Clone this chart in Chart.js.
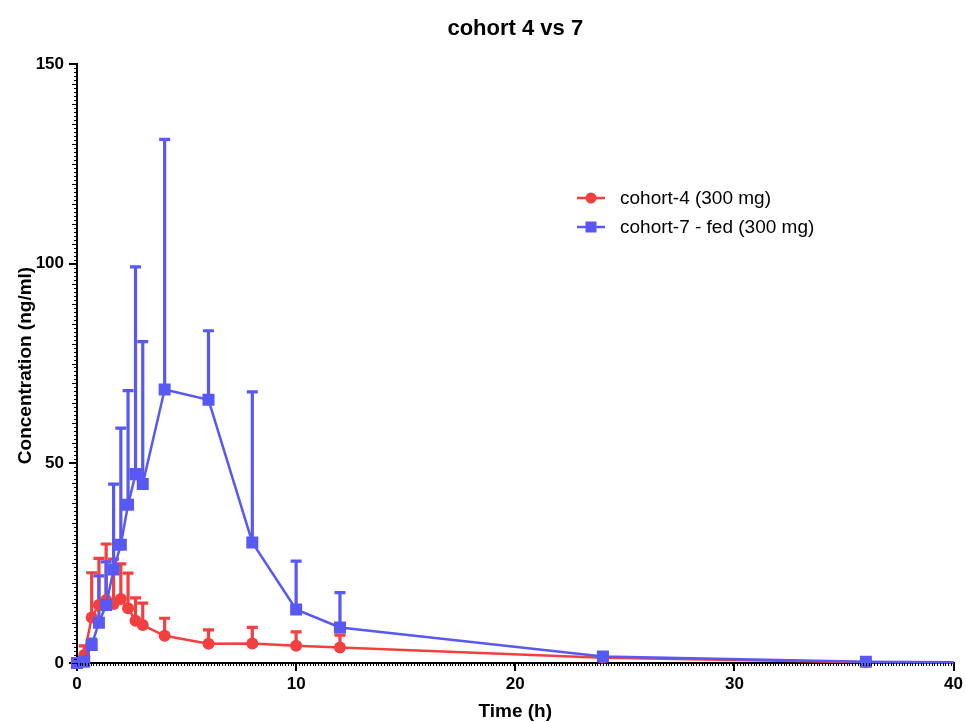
<!DOCTYPE html>
<html>
<head>
<meta charset="utf-8">
<title>cohort 4 vs 7</title>
<script src="https://cdn.jsdelivr.net/npm/chart.js@4.4.1/dist/chart.umd.min.js"></script>
<style>
  html, body { margin: 0; padding: 0; background: #fff; }
  #wrap { width: 966px; height: 722px; position: relative; }
</style>
</head>
<body>
<div id="wrap"><canvas id="pkChart" width="966" height="722"></canvas></div>
<script>
// time points (h) - last one is past the axis end, line runs off the edge
const times = [0, 0.33, 0.67, 1, 1.33, 1.67, 2, 2.33, 2.67, 3, 4, 6, 8, 10, 12, 24, 36, 48];

// cohort-4 (300 mg): mean and upper SD
const cohort4Mean = [0, 2.0, 11.4, 14.5, 15.8, 14.8, 16.0, 13.7, 10.6, 9.5, 6.8, 4.8, 4.9, 4.3, 3.9, 1.3, 0.2, 0.05];
const cohort4Sd   = [0, 2.3, 11.2, 11.7, 14.0, 11.2, 8.8, 8.8, 5.7, 5.5, 4.4, 3.5, 4.0, 3.5, 3.1, 0.5, 0.2, 0];

// cohort-7 - fed (300 mg)
const cohort7Mean = [0, 0.3, 4.5, 10.1, 14.5, 23.4, 29.6, 39.6, 47.3, 44.8, 68.5, 65.9, 30.2, 13.4, 8.9, 1.6, 0.3, 0.05];
const cohort7Sd   = [0, 0, 1.5, 11.7, 10.8, 21.4, 29.2, 28.6, 51.9, 35.7, 62.6, 17.3, 37.7, 12.1, 8.7, 0.4, 0, 0];

const xTicks = [0, 10, 20, 30, 40];
const yTicks = [0, 50, 100, 150];

const RED = 'rgb(242, 64, 64)';
const BLUE = 'rgb(88, 88, 245)';
const FONT = '"Liberation Sans", Arial, Helvetica, sans-serif';

function toPoints(means) {
    return times.map((t, i) => ({ x: t, y: means[i] }));
}

// upper-only error bars with caps, drawn under the lines
const errorBars = {
    id: 'errorBars',
    beforeDatasetsDraw(chart) {
        const { ctx, scales: { x, y } } = chart;
        const sets = [[cohort4Mean, cohort4Sd, RED], [cohort7Mean, cohort7Sd, BLUE]];
        ctx.save();
        ctx.lineWidth = 3.2;
        sets.forEach(([mean, sd, color]) => {
            ctx.strokeStyle = color;
            times.forEach((t, i) => {
                if (t > x.max || !sd[i]) return;
                const px = x.getPixelForValue(t);
                const y0 = y.getPixelForValue(mean[i]);
                const y1 = y.getPixelForValue(mean[i] + sd[i]);
                ctx.beginPath();
                ctx.moveTo(px, y0);
                ctx.lineTo(px, y1);
                ctx.moveTo(px - 5.5, y1);
                ctx.lineTo(px + 5.5, y1);
                ctx.stroke();
            });
        });
        ctx.restore();
    }
};

// title, axis titles, minor ticks and the legend inside the plot
const extras = {
    id: 'extras',
    afterDraw(chart) {
        const { ctx, scales: { x, y }, chartArea: a } = chart;
        ctx.save();
        ctx.fillStyle = '#000';
        ctx.strokeStyle = '#000';

        // minor ticks
        ctx.lineWidth = 1;
        for (let v = 0; v <= 150; v += 1) {
            const py = Math.round(y.getPixelForValue(v)) + 0.5;
            const len = v % 5 === 0 ? 5 : 3;
            ctx.beginPath();
            ctx.moveTo(a.left - len, py);
            ctx.lineTo(a.left, py);
            ctx.stroke();
        }
        for (let v = 0; v <= 40; v += 0.125) {
            const px = Math.round(x.getPixelForValue(v)) + 0.5;
            ctx.beginPath();
            ctx.moveTo(px, a.bottom);
            ctx.lineTo(px, a.bottom + 3);
            ctx.stroke();
        }

        const cx = (a.left + a.right) / 2;
        ctx.textAlign = 'center';
        ctx.textBaseline = 'alphabetic';
        ctx.font = 'bold 22px ' + FONT;
        ctx.fillText('cohort 4 vs 7', cx, 35);

        ctx.font = 'bold 19px ' + FONT;
        ctx.fillText('Time (h)', cx, 717);

        ctx.save();
        ctx.translate(31, (a.top + a.bottom) / 2 + 2);
        ctx.rotate(-Math.PI / 2);
        ctx.fillText('Concentration (ng/ml)', 0, 0);
        ctx.restore();

        // legend
        const rows = [
            { label: 'cohort-4 (300 mg)', color: RED, shape: 'circle', y: 198 },
            { label: 'cohort-7 - fed (300 mg)', color: BLUE, shape: 'square', y: 227 }
        ];
        ctx.textAlign = 'left';
        ctx.textBaseline = 'middle';
        ctx.font = '19px ' + FONT;
        rows.forEach(r => {
            ctx.strokeStyle = r.color;
            ctx.fillStyle = r.color;
            ctx.lineWidth = 2.5;
            ctx.beginPath();
            ctx.moveTo(577, r.y);
            ctx.lineTo(605, r.y);
            ctx.stroke();
            if (r.shape === 'circle') {
                ctx.beginPath();
                ctx.arc(591, r.y, 5.5, 0, Math.PI * 2);
                ctx.fill();
            } else {
                ctx.fillRect(585.5, r.y - 5.5, 11, 11);
            }
            ctx.fillStyle = '#000';
            ctx.fillText(r.label, 620, r.y + 1);
        });
        ctx.restore();
    }
};

const ctx = document.getElementById('pkChart').getContext('2d');
const pkChart = new Chart(ctx, {
    type: 'line',
    data: {
        datasets: [{
            label: 'cohort-7 - fed (300 mg)',
            data: toPoints(cohort7Mean),
            borderColor: BLUE,
            backgroundColor: BLUE,
            borderWidth: 2.5,
            pointStyle: 'rect',
            pointRadius: 8.5,
            pointBorderWidth: 0,
            pointHoverRadius: 8.5,
            tension: 0,
            order: 0,
            clip: { left: 10, top: 10, right: 0, bottom: 10 }
        }, {
            label: 'cohort-4 (300 mg)',
            data: toPoints(cohort4Mean),
            borderColor: RED,
            backgroundColor: RED,
            borderWidth: 2.5,
            pointStyle: 'circle',
            pointRadius: 6,
            pointBorderWidth: 0,
            pointHoverRadius: 6,
            tension: 0,
            order: 1,
            clip: { left: 10, top: 10, right: 0, bottom: 10 }
        }]
    },
    options: {
        responsive: false,
        animation: false,
        layout: { padding: { left: 0, top: 64, right: 12, bottom: 0 } },
        plugins: {
            legend: { display: false },
            title: { display: false },
            tooltip: { enabled: false }
        },
        scales: {
            x: {
                type: 'linear',
                min: 0,
                max: 40,
                afterFit(scale) { scale.height = 59; },
                afterBuildTicks(scale) { scale.ticks = xTicks.map(v => ({ value: v })); },
                grid: { display: true, drawOnChartArea: false, drawTicks: true, tickLength: 8, color: '#000', lineWidth: 2 },
                border: { display: true, color: '#000', width: 2 },
                ticks: { color: '#000', font: { family: FONT, size: 17, weight: 'bold' }, padding: 3, maxRotation: 0 }
            },
            y: {
                type: 'linear',
                min: 0,
                max: 150,
                afterFit(scale) { scale.width = 77; },
                afterBuildTicks(scale) { scale.ticks = yTicks.map(v => ({ value: v })); },
                grid: { display: true, drawOnChartArea: false, drawTicks: true, tickLength: 8, color: '#000', lineWidth: 2 },
                border: { display: true, color: '#000', width: 2 },
                ticks: { color: '#000', font: { family: FONT, size: 17, weight: 'bold' }, padding: 5 }
            }
        }
    },
    plugins: [errorBars, extras]
});
</script>
</body>
</html>
